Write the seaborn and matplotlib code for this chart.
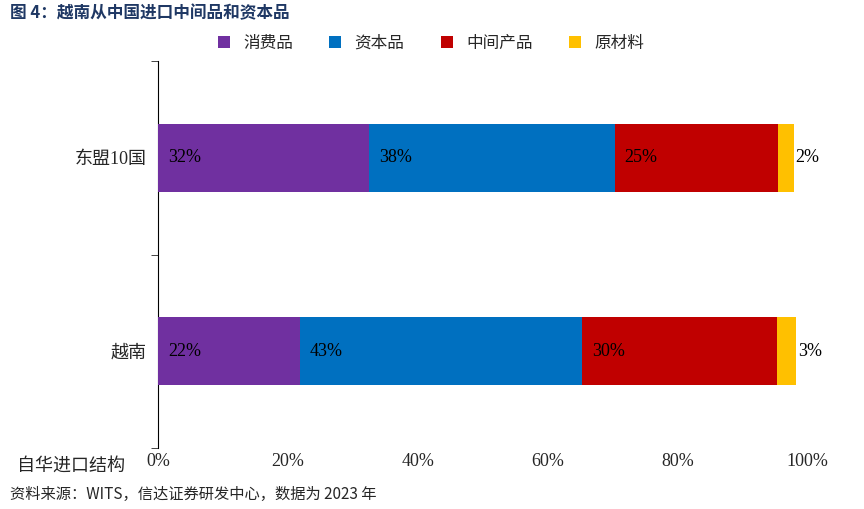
import matplotlib
matplotlib.use("Agg")
import matplotlib.pyplot as plt
import seaborn as sns
import pandas as pd

regions = ["东盟10国", "越南"]
series = ["消费品", "资本品", "中间产品", "原材料"]
consumer = [32.5, 21.8]
capital = [37.8, 43.5]
intermediate = [25.1, 30.0]
raw = [2.4, 2.9]
labels = [["32%", "38%", "25%", "2%"], ["22%", "43%", "30%", "3%"]]
colors = ["#7030A0", "#0070C0", "#C00000", "#FFC000"]

sns.set_style("white")
plt.rcParams["font.family"] = ["Liberation Serif", "Noto Sans CJK SC", "DejaVu Sans"]

df = pd.DataFrame({"region": regions, "消费品": consumer, "资本品": capital,
                   "中间产品": intermediate, "原材料": raw})

fig, ax = plt.subplots(figsize=(8.64, 5.09), dpi=100)
fig.subplots_adjust(left=0.183, right=0.935, top=0.88, bottom=0.12)

left = [0.0, 0.0]
for i, s in enumerate(series):
    sns.barplot(x=[l + v for l, v in zip(left, df[s])], y=df["region"], color=colors[i],
                orient="h", ax=ax, width=0.35, zorder=5 - i, label=s,
                saturation=1, linewidth=0)
    left = [l + v for l, v in zip(left, df[s])]

# text labels
left = [0.0, 0.0]
for i, s in enumerate(series):
    for j in range(2):
        x = left[j] + 1.5 if i < 3 else left[j] + df[s][j] + 0.3
        ax.text(x, j, labels[j][i], va="center", ha="left", fontsize=13, zorder=10,
                color="black", family=["Liberation Serif"])
        left[j] += df[s][j]

ax.set_xlim(0, 100)
ax.set_ylim(1.5, -0.5)
ax.set_xticks(range(0, 101, 20))
ax.set_xticklabels([f"{t}%" for t in range(0, 101, 20)], fontsize=13)
ax.tick_params(axis="y", labelsize=13, length=0, pad=8)
ax.set_yticks([-0.5, 0.5, 1.5], minor=True)
ax.tick_params(axis="y", which="minor", length=5, direction="out", left=True)
ax.tick_params(axis="x", length=0)
ax.set_ylabel("")
ax.set_xlabel("")
for sp in ["top", "right", "bottom"]:
    ax.spines[sp].set_visible(False)
ax.spines["left"].set_color("black")

ax.legend(loc="lower center", bbox_to_anchor=(0.42, 0.985), ncol=4, frameon=False,
          handlelength=0.7, handleheight=0.7, columnspacing=2.2,
          prop={"family": ["Noto Sans CJK SC"], "size": 12})

fig.text(0.012, 0.965, "图 4：越南从中国进口中间品和资本品", fontsize=12, fontweight="bold",
         color="#1F3864", family=["Noto Sans CJK SC"])
fig.text(0.02, 0.075, "自华进口结构", fontsize=13, family=["Noto Sans CJK SC"])
fig.text(0.012, 0.02, "资料来源：WITS，信达证券研发中心，数据为 2023 年", fontsize=11,
         style="italic", family=["Noto Sans CJK SC"])

fig.savefig("out.png", dpi=100)
